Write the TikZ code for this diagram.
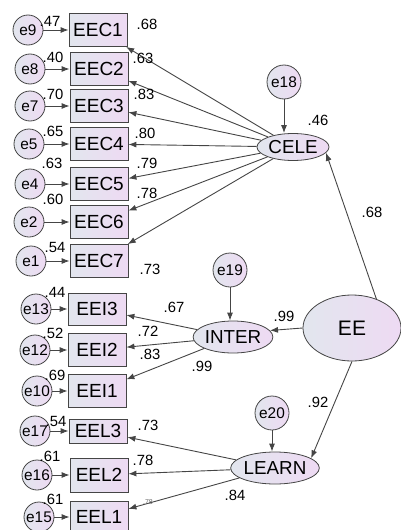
\documentclass[tikz,border=0pt]{standalone}
\usepackage{fontspec}
\setmainfont{Liberation Sans}
\usetikzlibrary{shapes.geometric, arrows.meta}
\definecolor{fillA}{HTML}{E2E6EE}
\definecolor{fillB}{HTML}{EEDAF3}
\definecolor{edge}{HTML}{454545}

\begin{document}
\begin{tikzpicture}[x=0.5pt, y=-0.5pt,
    obs/.style={draw=edge, left color=fillA, right color=fillB, minimum width=29pt, inner sep=0pt, font=\fontsize{9.5}{10}\selectfont},
    err/.style={circle, draw=edge, left color=fillA, right color=fillB, minimum size=15pt, inner sep=0pt, font=\fontsize{7.7}{8}\selectfont},
    dist/.style={err, minimum size=17pt},
    lat/.style={ellipse, draw=edge, left color=fillA, right color=fillB, inner sep=0pt, font=\fontsize{9.4}{10}\selectfont},
    num/.style={inner sep=0pt, font=\fontsize{7.4}{8}\selectfont},
    arr/.style={draw=edge, line width=0.45pt, -{Latex[length=4pt,width=3pt]}}]

    \useasboundingbox (0,0) rectangle (401,530);

    \foreach \b/\e/\x/\y/\ex/\h in {EEC1/e9/98/30/28/16.5, EEC2/e8/99/69/30/16.5, EEC3/e7/99/106/30/16.5,
        EEC4/e5/99/144/29/16.5, EEC5/e4/99/184/30/16.5, EEC6/e2/99/222/29/16.5, EEC7/e1/99/261/31/16.5,
        EEI3/e13/97/309/36/16, EEI2/e12/97/350/35/16.5, EEI1/e10/97/391/37/16.5,
        EEL3/e17/98/431/35/12, EEL2/e16/99/475/37/17, EEL1/e15/99/517/39/16} {
        \node[obs, minimum height=\h pt] (\b) at (\x,\y) {\b};
        \node[err] (\e) at (\ex,\y) {\e};
        \draw[arr] (\e) -- (\b);
    }

    \node[lat, minimum width=36pt, minimum height=13.5pt] (CELE) at (293,147) {CELE};
    \node[lat, minimum width=37pt, minimum height=16pt] (INTER) at (233,337) {INTER};
    \node[lat, minimum width=40.5pt, minimum height=16pt] (LEARN) at (275,468) {LEARN};
    \node[lat, minimum width=49pt, minimum height=33pt, font=\fontsize{10.5}{11}\selectfont] (EE) at (352,328) {EE};

    \node[dist] (e18) at (284,82) {e18};
    \node[dist] (e19) at (230,270) {e19};
    \node[dist] (e20) at (272,413) {e20};

    \draw[arr] (e18) -- (e18 |- CELE.north);
    \draw[arr] (e19) -- (e19 |- INTER.north);
    \draw[arr] (e20) -- (e20 |- LEARN.north);

    \foreach \b in {EEC1, EEC2, EEC3, EEC4, EEC5, EEC6, EEC7}
        \draw[arr] (CELE) -- (\b);
    \foreach \b in {EEI3, EEI2, EEI1}
        \draw[arr] (INTER) -- (\b);
    \foreach \b in {EEL3, EEL2, EEL1}
        \draw[arr] (LEARN) -- (\b);

    \draw[arr] (EE.50) -- (CELE.-10);
    \draw[arr] (EE.west) -- (INTER.10);
    \draw[arr] (EE.south) -- (LEARN.15);

    \foreach \t/\x/\y [count=\i] in {.47/50/21, .40/53/57, .70/53/94, .65/53/131, .63/52/163, .60/53/199,
        .54/55/247, .44/55/292, .52/53/333, .69/55/375, .54/56/421, .61/50/456, .61/53/499,
        .68/147/24, .63/143/58, .83/144/94, .80/145/133, .79/147/163, .78/147/193, .73/150/269,
        .67/174/307, .72/148/331, .83/150/354, .99/202/366, .73/148/425, .78/143/460, .84/235/495,
        .46/318/120, .68/372/212, .99/284/316, .92/318/402}
        \node[num] (v\i) at (\x,\y) {\t};
    \node[num, font=\fontsize{3.5}{4}\selectfont, text=black!60] (vs) at (148,502) {.78};

\end{tikzpicture}
\end{document}
